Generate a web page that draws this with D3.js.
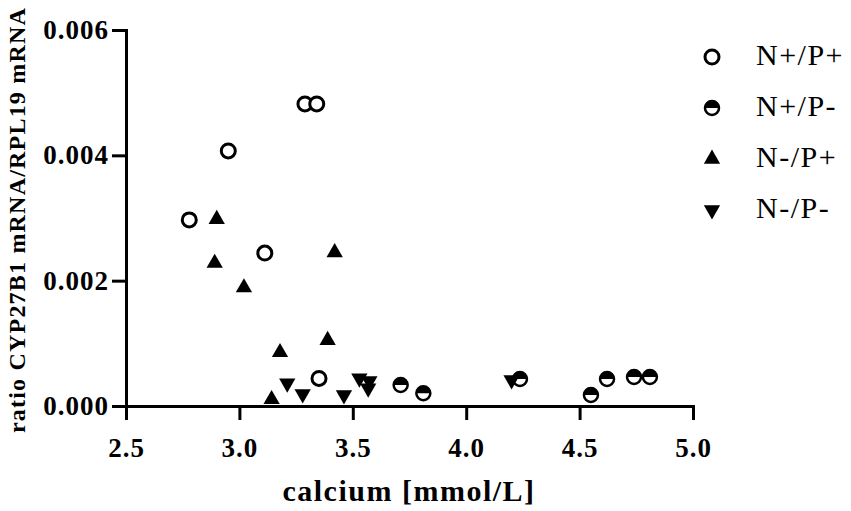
<!DOCTYPE html>
<meta charset="utf-8">
<style>
body{margin:0;background:#fff;}
text{font-family:"Liberation Serif","Times New Roman",serif;}
.axis path,.axis line{stroke:#000;stroke-width:3px;}
.axis text{font-size:27px;font-weight:bold;fill:#000;letter-spacing:1px;}
.title{font-weight:bold;fill:#000;}
.legend text{font-size:30px;fill:#000;letter-spacing:1.5px;}
</style>
<body>
<script src="https://cdn.jsdelivr.net/npm/d3@7"></script>
<script>

// calcium [mmol/L] vs ratio CYP27B1/RPL19, one pair of arrays per group
var groups = ["N+/P+", "N+/P-", "N-/P+", "N-/P-"];

var ppX = [2.779, 2.951, 3.112, 3.289, 3.341, 3.351];
var ppY = [0.00297, 0.00407, 0.00244, 0.00482, 0.00482, 0.00044];

var pmX = [3.711, 3.811, 4.237, 4.550, 4.621, 4.740, 4.810];
var pmY = [0.000335, 0.000203, 0.000431, 0.000176, 0.000431, 0.000463, 0.000463];

var mpX = [2.900, 2.891, 3.020, 3.179, 3.142, 3.389, 3.420];
var mpY = [0.00298, 0.00228, 0.00189, 0.000857, 0.000107, 0.00105, 0.00245];

var mmX = [3.211, 3.279, 3.461, 3.529, 3.573, 3.568, 4.200];
var mmY = [0.000362, 0.000191, 0.000176, 0.000442, 0.000399, 0.000282, 0.000415];

var xTicks = [2.5, 3.0, 3.5, 4.0, 4.5, 5.0];
var yTicks = [0, 0.002, 0.004, 0.006];

var W = 851, H = 511;
var svg = d3.select("body").append("svg").attr("width", W).attr("height", H);

var x = d3.scaleLinear().domain([2.5, 5]).range([126, 693]);
var y = d3.scaleLinear().domain([0, 0.006]).range([406, 30]);

svg.append("g").attr("class", "axis")
	.attr("transform", "translate(0," + y(0) + ")")
	.call(d3.axisBottom(x).tickValues(xTicks).tickSize(14).tickSizeOuter(0).tickPadding(18).tickFormat(d3.format(".1f")));
svg.append("g").attr("class", "axis")
	.attr("transform", "translate(" + x(2.5) + ",0)")
	.call(d3.axisLeft(y).tickValues(yTicks).tickSize(14).tickSizeOuter(0).tickPadding(3).tickFormat(d3.format(".3f")));
svg.selectAll(".axis").attr("font-family", null).attr("font-size", null);
svg.selectAll(".axis path").attr("stroke-linecap", "square");

svg.append("text").attr("class", "title")
	.attr("x", 409).attr("y", 501)
	.attr("text-anchor", "middle")
	.style("font-size", "30px").style("letter-spacing", "1.5px")
	.text("calcium [mmol/L]");

svg.append("text").attr("class", "title")
	.attr("transform", "translate(25,220) rotate(-90)")
	.attr("text-anchor", "middle")
	.style("font-size", "24px").style("letter-spacing", "1.2px")
	.text("ratio CYP27B1 mRNA/RPL19 mRNA");

// markers
var r = 7;
var tri = d3.symbol().type(d3.symbolTriangle).size(115);

function drawMarker(g, k) {
	if (k == 0) {
		g.append("circle").attr("r", r).attr("fill", "#fff").attr("stroke", "#000").attr("stroke-width", 3);
	} else if (k == 1) {
		g.append("circle").attr("r", r).attr("fill", "#fff").attr("stroke", "#000").attr("stroke-width", 2.5);
		g.append("path").attr("d", "M" + (-r) + ",0A" + r + "," + r + " 0 0 1 " + r + ",0Z").attr("fill", "#000");
	} else if (k == 2) {
		g.append("path").attr("d", tri()).attr("fill", "#000");
	} else {
		g.append("path").attr("d", tri()).attr("transform", "rotate(180)").attr("fill", "#000");
	}
}

var series = [[ppX, ppY], [pmX, pmY], [mpX, mpY], [mmX, mmY]];
series.forEach(function(s, k) {
	var pts = s[0].map(function(v, i) { return [v, s[1][i]]; });
	svg.append("g").selectAll("g").data(pts).enter().append("g")
		.attr("transform", function(d) { return "translate(" + x(d[0]) + "," + y(d[1]) + ")"; })
		.each(function() { drawMarker(d3.select(this), k); });
});

// legend
var legend = svg.append("g").attr("class", "legend");
groups.forEach(function(name, k) {
	var ly = 57 + k * 51;
	var g = legend.append("g").attr("transform", "translate(712," + ly + ")");
	drawMarker(g, k);
	legend.append("text").attr("x", 756).attr("y", ly + 8).text(name);
});

</script>
</body>
</html>
